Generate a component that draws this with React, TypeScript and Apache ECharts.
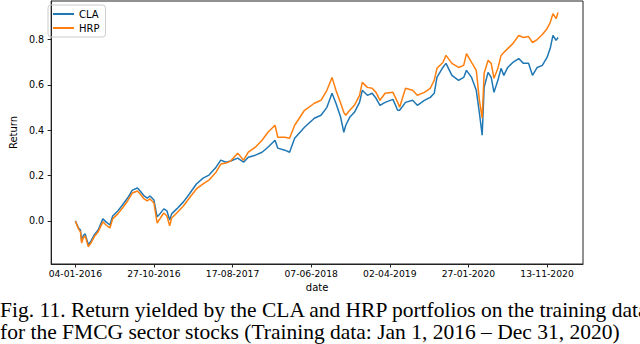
import React, { useEffect, useRef } from "react";
import * as echarts from "echarts";

const dayIndex = [0, 8, 13, 16, 20, 25, 33, 40, 48, 58, 70, 78, 88, 95, 108, 120, 133, 145, 158, 165, 175, 183, 190, 200, 208, 215, 225, 233, 240, 245, 258, 275, 290, 308, 325, 340, 358, 370, 383, 395, 413, 428, 440, 458, 475, 490, 508, 515, 533, 545, 558, 583, 608, 625, 640, 653, 663, 675, 683, 688, 698, 710, 723, 730, 743, 755, 765, 775, 788, 808, 820, 825, 840, 858, 870, 888, 903, 913, 920, 935, 943, 958, 975, 988, 995, 1008, 1020, 1028, 1035, 1040, 1050, 1058, 1065, 1075, 1083, 1090, 1100, 1113, 1128, 1140, 1153, 1163, 1175, 1188, 1200, 1208, 1215, 1223, 1228];

const claReturn = [0, -0.031, -0.04, -0.088, -0.066, -0.057, -0.105, -0.088, -0.062, -0.04, 0.009, -0.004, -0.018, 0.022, 0.044, 0.07, 0.101, 0.136, 0.145, 0.132, 0.11, 0.101, 0.11, 0.092, 0.018, 0.031, 0.053, 0.044, 0.004, 0.031, 0.053, 0.084, 0.119, 0.163, 0.189, 0.202, 0.237, 0.268, 0.259, 0.264, 0.277, 0.259, 0.281, 0.29, 0.303, 0.325, 0.356, 0.321, 0.312, 0.303, 0.365, 0.413, 0.453, 0.466, 0.501, 0.563, 0.519, 0.457, 0.391, 0.422, 0.457, 0.479, 0.523, 0.576, 0.554, 0.563, 0.541, 0.51, 0.523, 0.536, 0.488, 0.488, 0.523, 0.532, 0.51, 0.532, 0.545, 0.563, 0.633, 0.677, 0.695, 0.642, 0.62, 0.633, 0.664, 0.633, 0.576, 0.475, 0.378, 0.589, 0.655, 0.633, 0.567, 0.62, 0.673, 0.642, 0.677, 0.699, 0.716, 0.695, 0.695, 0.642, 0.677, 0.686, 0.721, 0.76, 0.818, 0.796, 0.809];

const hrpReturn = [0, -0.035, -0.048, -0.097, -0.075, -0.066, -0.114, -0.097, -0.07, -0.048, -0.004, -0.018, -0.031, 0.009, 0.031, 0.057, 0.088, 0.123, 0.132, 0.119, 0.097, 0.088, 0.097, 0.079, -0.009, 0.009, 0.035, 0.022, -0.022, 0.013, 0.035, 0.066, 0.101, 0.141, 0.163, 0.18, 0.215, 0.251, 0.255, 0.264, 0.299, 0.268, 0.303, 0.325, 0.356, 0.391, 0.422, 0.369, 0.369, 0.365, 0.422, 0.488, 0.519, 0.532, 0.576, 0.633, 0.576, 0.519, 0.479, 0.466, 0.488, 0.51, 0.554, 0.611, 0.589, 0.585, 0.567, 0.532, 0.563, 0.567, 0.523, 0.501, 0.585, 0.576, 0.554, 0.567, 0.585, 0.62, 0.673, 0.699, 0.73, 0.695, 0.677, 0.686, 0.738, 0.699, 0.664, 0.532, 0.453, 0.651, 0.708, 0.695, 0.629, 0.673, 0.73, 0.743, 0.76, 0.782, 0.818, 0.809, 0.813, 0.787, 0.8, 0.822, 0.848, 0.875, 0.914, 0.892, 0.919];

const tickDays = [0, 200, 400, 600, 800, 1000, 1200];
const tickLabels = ["04-01-2016", "27-10-2016", "17-08-2017", "07-06-2018", "02-04-2019", "27-01-2020", "13-11-2020"];
const yTicks = [0, 0.2, 0.4, 0.6, 0.8];

const captionLines = [
  "Fig. 11. Return yielded by the CLA and HRP portfolios on the training data",
  "for the FMCG sector stocks (Training data: Jan 1, 2016 \u2013 Dec 31, 2020)",
];

const TICK_FONT = "DejaVu Sans";

export default function App() {
  const ref = useRef<HTMLDivElement>(null);
  useEffect(() => {
    if (!ref.current) return;
    const chart = echarts.init(ref.current, undefined, { renderer: "svg" });
    const cla = dayIndex.map((d, i) => [d, claReturn[i]]);
    const hrp = dayIndex.map((d, i) => [d, hrpReturn[i]]);
    chart.setOption({
      animation: false,
      backgroundColor: "#fff",
      grid: {
        left: 43,
        right: 57,
        top: 1,
        bottom: 80,
        show: true,
        borderColor: "#222",
        borderWidth: 1,
        backgroundColor: "transparent",
      },
      legend: {
        show: true,
        left: 48,
        top: 5,
        orient: "vertical",
        borderColor: "#ccc",
        borderWidth: 1,
        borderRadius: 3,
        padding: [4, 6, 4, 5],
        itemGap: 4,
        itemWidth: 21,
        itemHeight: 2,
        textStyle: { fontFamily: TICK_FONT, fontSize: 10, color: "#000" },
        data: [
          { name: "CLA", icon: "rect" },
          { name: "HRP", icon: "rect" },
        ],
      },
      xAxis: {
        type: "value",
        min: -61.5,
        max: 1291.5,
        name: "date",
        nameLocation: "middle",
        nameGap: 18,
        nameTextStyle: { fontFamily: TICK_FONT, fontSize: 10, color: "#000" },
        splitLine: { show: false },
        axisLine: { show: true, onZero: false, lineStyle: { color: "#222", width: 1 } },
        axisTick: { show: true, customValues: tickDays, length: 3.5, lineStyle: { color: "#222" } },
        axisLabel: {
          customValues: tickDays,
          margin: 5,
          fontFamily: TICK_FONT,
          fontSize: 9.2,
          color: "#000",
          formatter: (v: number) => {
            const k = tickDays.indexOf(Math.round(v));
            return k >= 0 ? tickLabels[k] : "";
          },
        },
      },
      yAxis: {
        type: "value",
        min: -0.19,
        max: 0.97,
        name: "Return",
        nameLocation: "middle",
        nameGap: 31,
        nameTextStyle: { fontFamily: TICK_FONT, fontSize: 10, color: "#000" },
        splitLine: { show: false },
        axisLine: { show: true, onZero: false, lineStyle: { color: "#222", width: 1 } },
        axisTick: { show: true, customValues: yTicks, length: 3.5, lineStyle: { color: "#222" } },
        axisLabel: {
          customValues: yTicks,
          margin: 7,
          fontFamily: TICK_FONT,
          fontSize: 9.6,
          color: "#000",
          formatter: (v: number) => v.toFixed(1),
        },
      },
      series: [
        {
          name: "CLA",
          type: "line",
          data: cla,
          showSymbol: false,
          symbol: "none",
          color: "#1f77b4",
          lineStyle: { width: 1.5, color: "#1f77b4" },
        },
        {
          name: "HRP",
          type: "line",
          data: hrp,
          showSymbol: false,
          symbol: "none",
          color: "#ff7f0e",
          lineStyle: { width: 1.5, color: "#ff7f0e" },
        },
      ],
      graphic: captionLines.map((t, i) => ({
        type: "text",
        left: 0,
        top: 298.5 + i * 22,
        style: {
          text: t,
          fontFamily: "Liberation Serif",
          fontSize: 21.5,
          lineHeight: 21.5,
          fill: "#000",
        },
      })),
    });
    return () => chart.dispose();
  }, []);
  return (
    <div
      ref={ref}
      style={{ position: "fixed", left: 0, top: 0, width: 640, height: 344, background: "#fff" }}
    />
  );
}
